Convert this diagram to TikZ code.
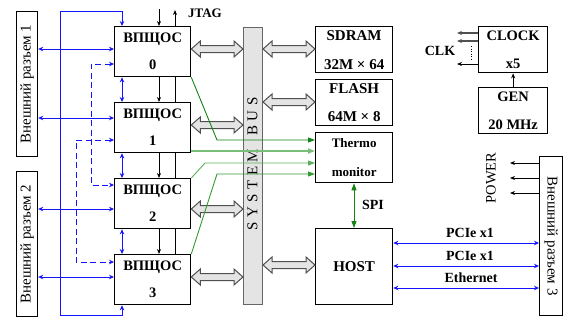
\documentclass[tikz,border=0pt]{standalone}
\usepackage{fontspec}
\usepackage{graphicx}
\setmainfont{Liberation Serif}
\usetikzlibrary{arrows.meta,calc}
\definecolor{gA}{RGB}{20,130,20}
\definecolor{gB}{RGB}{120,190,120}
\definecolor{gC}{RGB}{90,175,90}
\definecolor{gD}{RGB}{50,155,50}
\definecolor{bl}{RGB}{20,20,255}
\definecolor{fatfill}{RGB}{228,228,228}
\definecolor{fatdraw}{RGB}{80,80,80}
\newcommand\fatarr[2]{\path[fat] let \p1=(#1), \p2=(#2) in
  (\x1,\y1) -- (\x1+9pt,\y1+8pt) -- (\x1+9pt,\y1+3.5pt) -- (\x2-9pt,\y1+3.5pt) -- (\x2-9pt,\y1+8pt) --
  (\x2,\y1) -- (\x2-9pt,\y1-8pt) -- (\x2-9pt,\y1-3.5pt) -- (\x1+9pt,\y1-3.5pt) -- (\x1+9pt,\y1-8pt) -- cycle;}
\begin{document}
\begin{tikzpicture}[x=1pt,y=-1pt,
  box/.style={draw, line width=1.3pt, fill=white, inner sep=0pt, align=center, anchor=north west,
    font=\bfseries\fontsize{14.5}{27}\selectfont},
  conn/.style={draw, line width=1.2pt, fill=white, inner sep=0pt, anchor=north west},
  ctext/.style={inner sep=0pt, font=\fontsize{15}{15}\selectfont},
  lbl/.style={inner sep=0pt, font=\bfseries\fontsize{14}{15}\selectfont},
  fat/.style={fill=fatfill, draw=fatdraw, line width=1pt, line join=miter},
  bus/.style={draw=gray!80!black, fill=fatfill, line width=1pt, inner sep=0pt, anchor=north west},
  barr/.style={bl, line width=0.9pt, arrows={Stealth[length=5pt,width=4.5pt]-Stealth[length=5pt,width=4.5pt]}},
  ar/.style={line width=0.8pt, arrows={-Stealth[length=5pt,width=4pt]}},
  gr/.style={line width=0.9pt, arrows={-Triangle[length=7pt,width=5pt]}}
]
\useasboundingbox (0,0) rectangle (578,319);

% system bus
\node[bus, minimum width=19pt, minimum height=277pt] (bus) at (243,27) {};
\node[rotate=90, inner sep=0pt, font=\fontsize{15}{15}\selectfont] (bustext) at (252.5,164)
  {S\hspace{4.5pt}Y\hspace{4.5pt}S\hspace{4.5pt}T\hspace{4.5pt}E\hspace{4.5pt}M\hspace{13pt}B\hspace{4.5pt}U\hspace{4.5pt}S};

% FPGA boxes
\node[box, minimum width=76pt, minimum height=50pt] (b0) at (114,26) {ВПЩОС\\0};
\node[box, minimum width=76pt, minimum height=50pt] (b1) at (114,102) {ВПЩОС\\1};
\node[box, minimum width=76pt, minimum height=50pt] (b2) at (114,178) {ВПЩОС\\2};
\node[box, minimum width=76pt, minimum height=50pt] (b3) at (114,254) {ВПЩОС\\3};

% right column
\node[box, minimum width=77pt, minimum height=46pt, font=\bfseries\fontsize{15}{29}\selectfont] (sdram) at (315,26) {SDRAM\\32M × 64};
\node[box, minimum width=77pt, minimum height=46pt, font=\bfseries\fontsize{15}{28}\selectfont] (flash) at (315,79) {FLASH\\64M × 8};
\node[box, minimum width=77pt, minimum height=50pt, font=\bfseries\fontsize{13}{29}\selectfont] (therm) at (315,132) {Thermo\\monitor};
\node[box, minimum width=77pt, minimum height=76pt, font=\bfseries\fontsize{15}{17}\selectfont] (host) at (315,228) {HOST};
\node[box, minimum width=69pt, minimum height=46pt, font=\bfseries\fontsize{14.5}{28}\selectfont] (clock) at (478,26) {CLOCK\\x5};
\node[box, minimum width=69pt, minimum height=46pt, font=\bfseries\fontsize{14.5}{28}\selectfont] (gen) at (478,87) {GEN\\20 MHz};

% connectors
\node[conn, minimum width=21pt, minimum height=145pt] (c1) at (16,11) {};
\node[conn, minimum width=21pt, minimum height=145pt] (c2) at (16,171) {};
\node[conn, minimum width=23pt, minimum height=159pt] (c3) at (539,156) {};
\node[ctext, rotate=90] (c1t) at (c1.center) {Внешний разъем 1};
\node[ctext, rotate=90] (c2t) at (c2.center) {Внешний разъем 2};
\node[ctext, rotate=-90] (c3t) at (c3.center) {Внешний разъем 3};

% fat bus arrows
\fatarr{b0.east |- 0,49}{bus.west |- 0,49}
\fatarr{b1.east |- 0,125}{bus.west |- 0,125}
\fatarr{b2.east |- 0,209}{bus.west |- 0,209}
\fatarr{b3.east |- 0,277}{bus.west |- 0,277}
\fatarr{bus.east |- 0,49}{sdram.west |- 0,49}
\fatarr{bus.east |- 0,102}{flash.west |- 0,102}
\fatarr{bus.east |- 0,265}{host.west |- 0,265}

% green lines to thermo monitor
\coordinate (g1k) at (217,140);
\coordinate (g3k) at (205,163);
\coordinate (g4k) at (217,174);
\draw[gr, color=gA] (b0.south east) -- (g1k) -- (therm.west |- g1k);
\draw[gr, color=gB, line width=1.6pt] (b1.east |- 0,151) -- (therm.west |- 0,151);
\draw[gr, color=gC] (b2.north east) -- (g3k) -- (therm.west |- g3k);
\draw[gr, color=gD] (b3.north east) -- (g4k) -- (therm.west |- g4k);
\draw[line width=0.9pt, color=gA, arrows={Triangle[length=7pt,width=5pt]-Triangle[length=7pt,width=5pt]}]
  (therm.south -| 354,0) -- (host.north -| 354,0);
\node[lbl] (spi) at (373,205) {SPI};

% black links between FPGAs
\draw[ar] (b0.south -| 159,0) -- (b1.north -| 159,0);
\draw[ar] (b1.south -| 159,0) -- (b2.north -| 159,0);
\draw[ar] (b2.south -| 159,0) -- (b3.north -| 159,0);
\draw[line width=0.8pt] (b0.south -| 175,0) -- (b1.north -| 175,0);
\draw[line width=0.8pt] (b1.south -| 175,0) -- (b2.north -| 175,0);
\draw[line width=0.8pt] (b2.south -| 175,0) -- (b3.north -| 175,0);

% JTAG
\coordinate (jt1) at (159,9);
\coordinate (jt2) at (175,10);
\draw[ar] (jt1) -- (b0.north -| jt1);
\draw[ar] (b0.north -| jt2) -- (jt2);
\node[lbl, font=\bfseries\fontsize{13}{15}\selectfont] (jtag) at (205,13) {JTAG};

% blue links
\coordinate (lt) at (60,11);
\coordinate (lb) at (60,315);
\draw[barr] (b0.north -| 122,0) -- (122,11) -- (lt) -- (lb) -- (122,315) -- (b3.south -| 122,0);
\draw[barr] (b0.south -| 122,0) -- (b1.north -| 122,0);
\draw[barr] (b1.south -| 122,0) -- (b2.north -| 122,0);
\draw[barr] (b2.south -| 122,0) -- (b3.north -| 122,0);
\draw[barr] (c1.east |- 0,49) -- (b0.west |- 0,49);
\draw[barr] (c1.east |- 0,118) -- (b1.west |- 0,118);
\draw[barr] (c2.east |- 0,209) -- (b2.west |- 0,209);
\draw[barr] (c2.east |- 0,277) -- (b3.west |- 0,277);
\draw[barr, dash pattern=on 6pt off 3.5pt] (b0.west |- 0,64) -- (91,64) -- (91,185) -- (b2.west |- 0,185);
\draw[barr, dash pattern=on 6pt off 3.5pt] (b1.west |- 0,140) -- (76,140) -- (76,262) -- (b3.west |- 0,262);

% clock
\coordinate (k1) at (457,33);
\coordinate (k2) at (457,41);
\coordinate (k3) at (457,64);
\draw[ar, color=fatdraw, line width=1.1pt] (clock.west |- k1) -- (k1);
\draw[ar, color=fatdraw, line width=1.1pt] (clock.west |- k2) -- (k2);
\draw[ar] (clock.west |- k3) -- (k3);
\coordinate (d1) at (471,46);
\coordinate (d2) at (471,60);
\draw[line width=1pt, dash pattern=on 1pt off 1.5pt] (d1) -- (d2);
\node[lbl] (clk) at (440,51) {CLK};
\draw[ar] (gen.north) -- (clock.south);

% power
\coordinate (p1) at (510,163);
\coordinate (p2) at (510,178);
\coordinate (p3) at (510,193);
\draw[ar] (c3.west |- p1) -- (p1);
\draw[ar] (c3.west |- p2) -- (p2);
\draw[ar] (c3.west |- p3) -- (p3);
\node[ctext, rotate=90, font=\fontsize{14.5}{14.5}\selectfont] (power) at (491,178) {POWER};

% host links
\draw[barr] (host.east |- 0,243) -- (c3.west |- 0,243);
\draw[barr] (host.east |- 0,266) -- (c3.west |- 0,266);
\draw[barr] (host.east |- 0,288) -- (c3.west |- 0,288);
\node[lbl] (pcie1) at (470,233) {PCIe x1};
\node[lbl] (pcie2) at (470,256) {PCIe x1};
\node[lbl] (eth) at (471,278) {Ethernet};
\end{tikzpicture}
\end{document}
